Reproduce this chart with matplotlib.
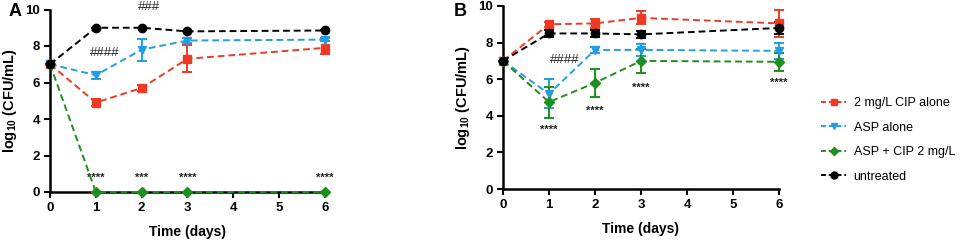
import numpy as np
import matplotlib
matplotlib.use("Agg")
import matplotlib.pyplot as plt
from matplotlib.lines import Line2D

plt.rcParams['font.family'] = ['Liberation Sans', 'DejaVu Sans']
plt.rcParams['mathtext.fontset'] = 'custom'
plt.rcParams['mathtext.bf'] = 'Liberation Sans:bold'
plt.rcParams['mathtext.rm'] = 'Liberation Sans'

# Datos
days = [0, 1, 2, 3, 6]

# Panel A
a_cip = [7.0, 4.9, 5.7, 7.3, 7.9]
a_cip_err = [0.0, 0.2, 0.15, 0.75, 0.35]
a_asp = [7.0, 6.4, 7.8, 8.3, 8.35]
a_asp_err = [0.0, 0.2, 0.6, 0.15, 0.1]
a_combo = [7.0, 0.0, 0.0, 0.0, 0.0]
a_combo_err = [0.0, 0.0, 0.0, 0.0, 0.0]
a_untr = [7.0, 9.0, 9.0, 8.8, 8.85]
a_untr_err = [0.0, 0.0, 0.0, 0.0, 0.0]

# Panel B
b_cip = [7.0, 9.0, 9.05, 9.35, 9.05]
b_cip_err = [0.0, 0.15, 0.25, 0.35, 0.75]
b_asp = [7.0, 5.2, 7.6, 7.6, 7.55]
b_asp_err = [0.0, 0.8, 0.15, 0.35, 0.45]
b_combo = [7.0, 4.75, 5.8, 7.0, 6.95]
b_combo_err = [0.0, 0.85, 0.75, 0.65, 0.5]
b_untr = [7.0, 8.5, 8.5, 8.45, 8.8]
b_untr_err = [0.0, 0.2, 0.2, 0.2, 0.35]

labels = ["2 mg/L CIP alone", "ASP alone", "ASP + CIP 2 mg/L", "untreated"]
colors = ["#ee3a24", "#239ee6", "#1e8f1e", "#000000"]
markers = ["s", "v", "D", "o"]
msizes = [6, 6, 5, 6]

# Anotaciones (x, y, texto)
a_hash = [(1.2, 7.6, "####"), (2.15, 10.15, "###")]
a_stars = [(1, 0.8, "****"), (2, 0.8, "***"), (3, 0.8, "****"), (6, 0.8, "****")]
b_hash = [(1.35, 7.05, "####")]
b_stars = [(1, 3.25, "****"), (2, 4.25, "****"), (3, 5.55, "****"), (6, 5.8, "****")]

fig = plt.figure(figsize=(9.6, 2.42), dpi=100)
axA = fig.add_axes([50 / 960, 1 - 192 / 242, 275 / 960, 182.5 / 242])
axB = fig.add_axes([503 / 960, 1 - 189 / 242, 276 / 960, 183 / 242])


def draw(ax, series, errs, hashes, stars):
    for y, e, c, m, ms, lab in zip(series, errs, colors, markers, msizes, labels):
        h = ax.errorbar(days, y, yerr=e, color=c, marker=m, markersize=ms,
                        linestyle=(0, (3.5, 2)), linewidth=1.4, capsize=3.5,
                        elinewidth=1.4, capthick=1.4, label=lab, clip_on=False,
                        zorder=3)
        for part in h.lines[1] + h.lines[2]:
            part.set_clip_on(False)
    for x, y, t in hashes:
        ax.text(x, y, t, ha="center", va="center", fontsize=9.5,
                color="#222222", clip_on=False)
    for x, y, t in stars:
        ax.text(x, y, t, ha="center", va="center", fontsize=8,
                fontweight="bold", color="#222222")
    ax.set_xlim(0, 6)
    ax.set_ylim(0, 10)
    ax.set_xticks([0, 1, 2, 3, 4, 5, 6])
    ax.set_yticks([0, 2, 4, 6, 8, 10])
    for s in ["top", "right"]:
        ax.spines[s].set_visible(False)
    for s in ["left", "bottom"]:
        ax.spines[s].set_linewidth(1.8)
    ax.tick_params(width=1.5, length=4, labelsize=9.5, pad=3)
    for lab in ax.get_xticklabels() + ax.get_yticklabels():
        lab.set_fontweight("bold")
    ax.set_xlabel("Time (days)", fontsize=10, fontweight="bold", labelpad=8)
    ax.set_ylabel(r"log$_\mathbf{10}$ (CFU/mL)", fontsize=10.5, fontweight="bold",
                  labelpad=5)


draw(axA, [a_cip, a_asp, a_combo, a_untr],
     [a_cip_err, a_asp_err, a_combo_err, a_untr_err], a_hash, a_stars)
draw(axB, [b_cip, b_asp, b_combo, b_untr],
     [b_cip_err, b_asp_err, b_combo_err, b_untr_err], b_hash, b_stars)

fig.text(9 / 960, 1 - 12 / 242, "A", fontsize=13, fontweight="bold", va="center")
fig.text(454 / 960, 1 - 12 / 242, "B", fontsize=13, fontweight="bold", va="center")

handles = [Line2D([], [], color=c, marker=m, markersize=ms - 1,
                  linestyle=(0, (2.5, 1.5)), linewidth=1.4)
           for c, m, ms in zip(colors, markers, msizes)]
fig.legend(handles, labels, loc="center left", bbox_to_anchor=(810 / 960, 1 - 140 / 242),
           frameon=False, fontsize=9, handlelength=2.0, labelspacing=1.0,
           handletextpad=0.6)

fig.savefig("out.png", dpi=100)
